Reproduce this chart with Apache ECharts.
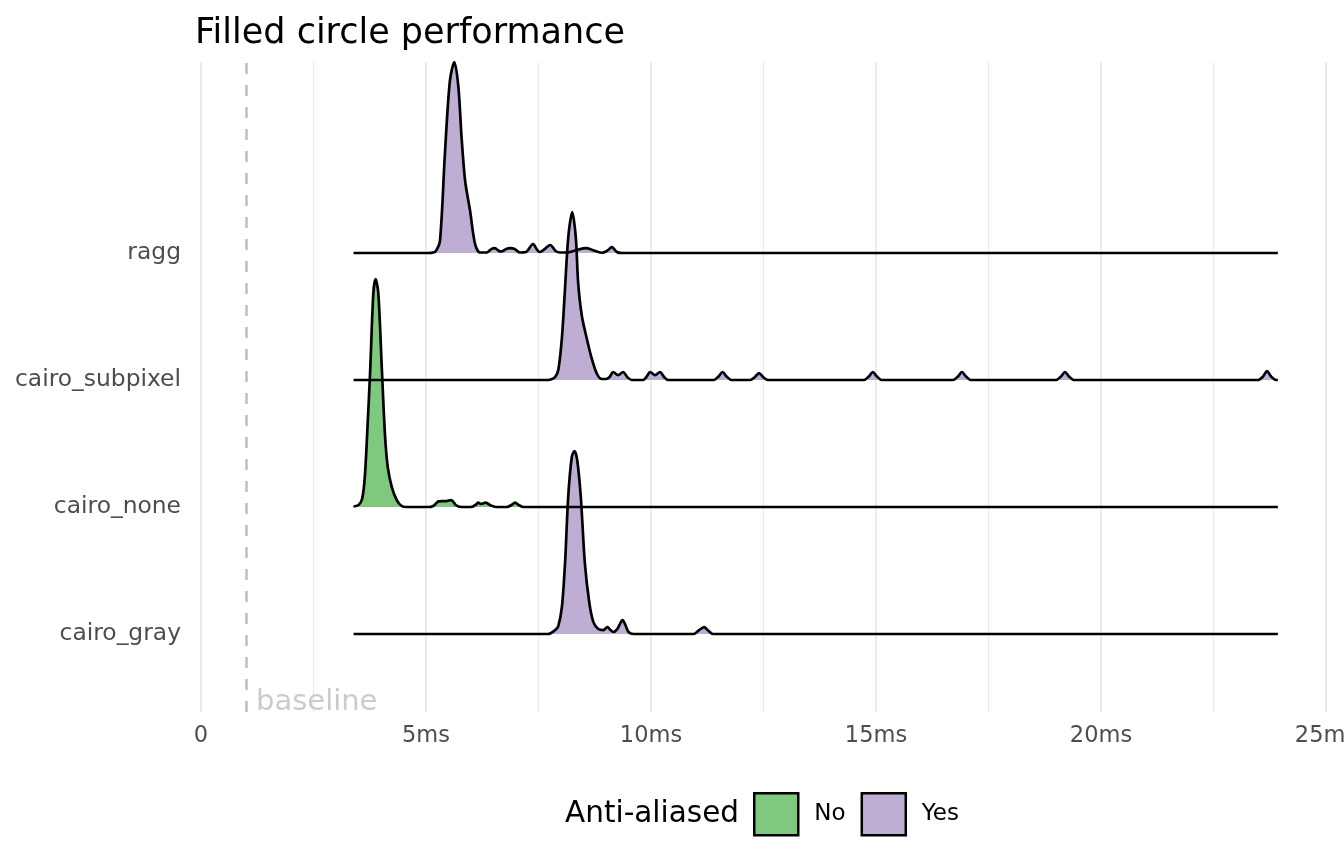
<!DOCTYPE html>
<html>
<head>
<meta charset="utf-8">
<script src="https://cdn.jsdelivr.net/npm/echarts@6/dist/echarts.min.js"></script>
<style>
html,body{margin:0;padding:0;background:#fff;}
#chart{width:1344px;height:865px;}
</style>
</head>
<body>
<div id="chart"></div>
<script>
// Categories (bottom to top)
const categories = ['cairo_gray', 'cairo_none', 'cairo_subpixel', 'ragg'];
const antiAliased = { cairo_gray: 'Yes', cairo_none: 'No', cairo_subpixel: 'Yes', ragg: 'Yes' };
const xTicks = [0, 5, 10, 15, 20, 25];
const baselineMs = 1;

// Density ridges: x in ms, scaled density height (1 = spacing between ridges)
const raggX = [3.39, 5.05, 5.16, 5.22, 5.31, 5.42, 5.53, 5.63, 5.72, 5.79, 5.87, 5.98, 6.09, 6.20, 6.35, 6.45, 6.53, 6.62, 6.68, 6.78, 6.87, 6.97, 7.09, 7.22, 7.38, 7.47, 7.53, 7.65, 7.76, 7.88, 7.98, 8.10, 8.20, 8.35, 8.56, 8.70, 8.90, 9.02, 9.13, 9.24, 9.35, 9.50, 23.93];
const raggY = [0, 0, 0.004, 0.016, 0.094, 0.780, 1.354, 1.504, 1.307, 0.913, 0.567, 0.331, 0.071, 0.004, 0.004, 0.031, 0.039, 0.016, 0.012, 0.031, 0.039, 0.031, 0.004, 0.008, 0.071, 0.024, 0.008, 0.035, 0.063, 0.016, 0.004, 0.004, 0.008, 0.024, 0.039, 0.024, 0.002, 0.016, 0.047, 0.008, 0, 0, 0];

const subpixelX = [3.39, 7.72, 7.80, 7.87, 7.94, 8.02, 8.09, 8.16, 8.25, 8.33, 8.38, 8.46, 8.57, 8.68, 8.79, 8.90, 9.00,
  9.08, 9.16, 9.27, 9.38, 9.47, 9.57, 9.70,
  9.82, 9.90, 9.98, 10.09, 10.20, 10.29, 10.38, 10.50,
  11.29, 11.39, 11.50, 11.59, 11.68, 11.79, 11.89,
  12.10, 12.20, 12.31, 12.40, 12.49, 12.60, 12.70,
  14.63, 14.73, 14.84, 14.93, 15.02, 15.13, 15.23,
  16.61, 16.71, 16.82, 16.91, 17.00, 17.11, 17.21,
  18.90, 19.00, 19.11, 19.20, 19.29, 19.40, 19.50,
  23.39, 23.49, 23.60, 23.69, 23.78, 23.89, 23.93];
const subpixelY = [0, 0, 0.008, 0.024, 0.079, 0.331, 0.724, 1.118, 1.323, 1.118, 0.772, 0.512, 0.331, 0.173, 0.055, 0.008, 0.008,
  0.024, 0.063, 0.039, 0.063, 0.024, 0, 0,
  0, 0.024, 0.063, 0.039, 0.063, 0.024, 0, 0,
  0, 0, 0.028, 0.063, 0.028, 0, 0,
  0, 0, 0.024, 0.055, 0.024, 0, 0,
  0, 0, 0.028, 0.063, 0.028, 0, 0,
  0, 0, 0.028, 0.063, 0.028, 0, 0,
  0, 0, 0.028, 0.063, 0.028, 0, 0,
  0, 0, 0.028, 0.070, 0.028, 0, 0];

const noneX = [3.39, 3.50, 3.58, 3.64, 3.70, 3.76, 3.83, 3.88, 3.94, 4.02, 4.09, 4.15, 4.24, 4.35, 4.46, 4.56, 4.70,
  5.05, 5.16, 5.27, 5.36, 5.45, 5.56, 5.66, 5.78, 5.90,
  6.00, 6.10, 6.16, 6.22, 6.27, 6.33, 6.42, 6.55, 6.68,
  6.80, 6.90, 6.98, 7.06, 7.16, 7.26, 23.93];
const noneY = [0.004, 0.016, 0.063, 0.236, 0.630, 1.079, 1.685, 1.795, 1.685, 1.079, 0.559, 0.315, 0.157, 0.055, 0.008, 0, 0,
  0, 0.008, 0.043, 0.047, 0.047, 0.055, 0.016, 0, 0,
  0, 0.016, 0.035, 0.024, 0.028, 0.035, 0.016, 0, 0,
  0, 0.016, 0.035, 0.016, 0, 0, 0];

const grayX = [3.39, 7.70, 7.76, 7.87, 7.94, 8.02, 8.09, 8.16, 8.24, 8.30, 8.36, 8.44, 8.53, 8.63, 8.72, 8.83, 8.94, 9.03, 9.10, 9.16, 9.25, 9.37, 9.44, 9.50, 9.61, 9.75,
  10.85, 10.95, 11.06, 11.18, 11.27, 11.38, 11.48, 23.93];
const grayY = [0, 0, 0.004, 0.031, 0.063, 0.213, 0.559, 1.079, 1.394, 1.441, 1.370, 1.079, 0.559, 0.244, 0.094, 0.039, 0.031, 0.055, 0.031, 0.016, 0.039, 0.110, 0.063, 0.016, 0, 0,
  0, 0, 0.028, 0.055, 0.028, 0, 0, 0];

const ridges = {
  ragg: [raggX, raggY],
  cairo_subpixel: [subpixelX, subpixelY],
  cairo_none: [noneX, noneY],
  cairo_gray: [grayX, grayY]
};

const fillColors = { No: '#7FC97F', Yes: '#BEAED4' };
const FONT = 'DejaVu Sans';

// draw order: top ridge first so lower ridges overlap it
const drawOrder = ['ragg', 'cairo_subpixel', 'cairo_none', 'cairo_gray'];
const series = drawOrder.map(function (cat) {
  const base = categories.indexOf(cat) + 1;
  const xs = ridges[cat][0], ys = ridges[cat][1];
  const aa = antiAliased[cat];
  return {
    type: 'line',
    name: aa,
    data: xs.map(function (x, i) { return [x, base + ys[i]]; }),
    smooth: 0.3,
    showSymbol: false,
    symbol: 'none',
    silent: true,
    lineStyle: { color: '#000', width: 2.7 },
    itemStyle: { color: fillColors[aa] },
    areaStyle: { color: fillColors[aa], opacity: 1, origin: base }
  };
});

series.unshift({
  type: 'scatter',
  name: 'baseline',
  data: [[baselineMs, 0.386]],
  symbolSize: 0,
  silent: true,
  label: {
    show: true, position: 'right', distance: 10, formatter: 'baseline', offset: [0, 5],
    color: '#BEBEBE', fontSize: 29, fontFamily: FONT, verticalAlign: 'bottom'
  },
  markLine: {
    silent: true, symbol: 'none', label: { show: false },
    lineStyle: { color: '#BEBEBE', width: 2.5, type: [11, 11] },
    data: [{ xAxis: baselineMs }]
  }
});

const chart = echarts.init(document.getElementById('chart'));
chart.setOption({
  animation: false,
  backgroundColor: '#fff',
  title: {
    text: 'Filled circle performance', left: 190, top: 11,
    textStyle: { fontSize: 35, fontWeight: 'normal', color: '#000', fontFamily: FONT }
  },
  grid: { left: 201, right: 18, top: 62, bottom: 153, outerBoundsMode: 'none', containLabel: false },
  xAxis: {
    type: 'value', min: xTicks[0], max: xTicks[xTicks.length - 1], interval: 5,
    axisLine: { show: false }, axisTick: { show: false },
    axisLabel: {
      color: '#4D4D4D', fontSize: 22.5, fontFamily: FONT, margin: 13,
      formatter: function (v) { return v === 0 ? '0' : v + 'ms'; }
    },
    splitLine: { show: true, lineStyle: { color: '#EBEBEB', width: 2 } },
    minorTick: { show: false, splitNumber: 2 },
    minorSplitLine: { show: true, lineStyle: { color: '#EBEBEB', width: 1.1 } }
  },
  yAxis: {
    type: 'value', min: 0.386, max: 5.504,
    axisLine: { show: false }, axisTick: { show: false }, splitLine: { show: false },
    axisLabel: {
      customValues: [1, 2, 3, 4], color: '#4D4D4D', fontSize: 23.4, fontFamily: FONT, margin: 20,
      padding: [5, 0, 0, 0],
      formatter: function (v) { return categories[Math.round(v) - 1] || ''; }
    }
  },
  legend: {
    data: [
      { name: 'No', itemStyle: { color: fillColors.No, borderColor: '#000', borderWidth: 2.5 } },
      { name: 'Yes', itemStyle: { color: fillColors.Yes, borderColor: '#000', borderWidth: 2.5 } }
    ],
    left: 748, top: 787, itemWidth: 44, itemHeight: 42, itemGap: 15, icon: 'rect',
    selectedMode: false,
    textStyle: { fontSize: 23, color: '#000', fontFamily: FONT, padding: [0, 0, 0, 11] }
  },
  graphic: [{
    type: 'text', left: 565, top: 799,
    style: { text: 'Anti-aliased', fontSize: 29.5, fill: '#000', fontFamily: FONT }
  }],
  series: series
});
</script>
</body>
</html>
